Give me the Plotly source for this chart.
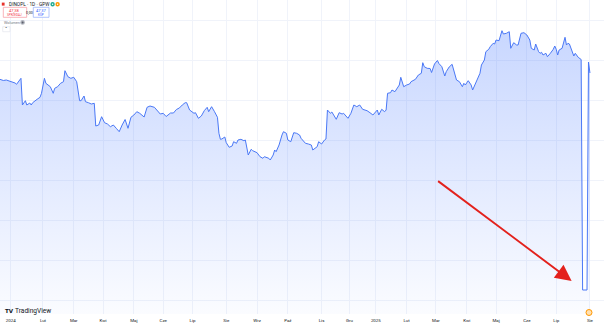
import plotly.graph_objects as go

# ---------------- data ----------------
dates = [
    "2023-12-18", "2023-12-19", "2023-12-21", "2023-12-27",
    "2024-01-03", "2024-01-05", "2024-01-08", "2024-01-10", "2024-01-11", "2024-01-12",
    "2024-01-15", "2024-01-16", "2024-01-17", "2024-01-19", "2024-01-22", "2024-01-23",
    "2024-01-26", "2024-01-30", "2024-01-31",
    "2024-02-02", "2024-02-05", "2024-02-08", "2024-02-12", "2024-02-13", "2024-02-15",
    "2024-02-19", "2024-02-21", "2024-02-22", "2024-02-26", "2024-02-28",
    "2024-03-01", "2024-03-05", "2024-03-07", "2024-03-08", "2024-03-12", "2024-03-13",
    "2024-03-15", "2024-03-19", "2024-03-21", "2024-03-22", "2024-03-26", "2024-03-28",
    "2024-04-03", "2024-04-05", "2024-04-09", "2024-04-11", "2024-04-15", "2024-04-17",
    "2024-04-19", "2024-04-23", "2024-04-25", "2024-04-29",
    "2024-05-02", "2024-05-07", "2024-05-09", "2024-05-14", "2024-05-16", "2024-05-20",
    "2024-05-23", "2024-05-27", "2024-05-29",
    "2024-06-03", "2024-06-05", "2024-06-10", "2024-06-12", "2024-06-14", "2024-06-18",
    "2024-06-20", "2024-06-24", "2024-06-25", "2024-06-27",
    "2024-07-02", "2024-07-03", "2024-07-05", "2024-07-09", "2024-07-11", "2024-07-15",
    "2024-07-16", "2024-07-18", "2024-07-22", "2024-07-24", "2024-07-25", "2024-07-26",
    "2024-07-29", "2024-07-31",
    "2024-08-01", "2024-08-05", "2024-08-07", "2024-08-08", "2024-08-12", "2024-08-13",
    "2024-08-16", "2024-08-20", "2024-08-21", "2024-08-22", "2024-08-23", "2024-08-27",
    "2024-08-28",
    "2024-09-02", "2024-09-04", "2024-09-06", "2024-09-09", "2024-09-12", "2024-09-13",
    "2024-09-17", "2024-09-18", "2024-09-19", "2024-09-23", "2024-09-25", "2024-09-26",
    "2024-09-30",
    "2024-10-01", "2024-10-03", "2024-10-07", "2024-10-09", "2024-10-11", "2024-10-14",
    "2024-10-17", "2024-10-21", "2024-10-23", "2024-10-24", "2024-10-29", "2024-10-30",
    "2024-10-31",
    "2024-11-04", "2024-11-06", "2024-11-07", "2024-11-08", "2024-11-13", "2024-11-14",
    "2024-11-18", "2024-11-19", "2024-11-21", "2024-11-25", "2024-11-26", "2024-11-29",
    "2024-12-03", "2024-12-05", "2024-12-09", "2024-12-11", "2024-12-13", "2024-12-18",
    "2024-12-20", "2024-12-27",
    "2025-01-03", "2025-01-07", "2025-01-09", "2025-01-13", "2025-01-14", "2025-01-15",
    "2025-01-17", "2025-01-20", "2025-01-22", "2025-01-24", "2025-01-27", "2025-01-28",
    "2025-01-29", "2025-01-30",
    "2025-02-03", "2025-02-05", "2025-02-06", "2025-02-11", "2025-02-13", "2025-02-17",
    "2025-02-18", "2025-02-19", "2025-02-21", "2025-02-25", "2025-02-26", "2025-02-28",
    "2025-03-04", "2025-03-05", "2025-03-07", "2025-03-11", "2025-03-12", "2025-03-14",
    "2025-03-18", "2025-03-20", "2025-03-21", "2025-03-25", "2025-03-27", "2025-03-28",
    "2025-03-31",
    "2025-04-02", "2025-04-04", "2025-04-07", "2025-04-09", "2025-04-10", "2025-04-14",
    "2025-04-15", "2025-04-17", "2025-04-22", "2025-04-24", "2025-04-25", "2025-04-29",
    "2025-04-30",
    "2025-05-02", "2025-05-06", "2025-05-08", "2025-05-09", "2025-05-13", "2025-05-15",
    "2025-05-16", "2025-05-20", "2025-05-22", "2025-05-23", "2025-05-27", "2025-05-29",
    "2025-06-02", "2025-06-04", "2025-06-05", "2025-06-09", "2025-06-10", "2025-06-12",
    "2025-06-13", "2025-06-16", "2025-06-17", "2025-06-20", "2025-06-23", "2025-06-25",
    "2025-06-27", "2025-06-30",
    "2025-07-01", "2025-07-02", "2025-07-03", "2025-07-07", "2025-07-08", "2025-07-09",
    "2025-07-10", "2025-07-11", "2025-07-14", "2025-07-15", "2025-07-17", "2025-07-18",
    "2025-07-21", "2025-07-22", "2025-07-24", "2025-07-25", "2025-07-28", "2025-07-29",
    "2025-07-30", "2025-07-31", "2025-08-01",
]

prices = [
    261.0, 260.7, 259.5, 260.0,
    258.3, 257.0, 255.7, 260.0, 261.7, 235.0,
    237.0, 239.3, 235.0, 237.0, 235.0, 237.3,
    240.7, 242.7, 246.7,
    261.7, 256.7, 253.3, 246.7, 251.7, 253.3,
    256.7, 258.3, 269.3, 263.3, 261.7,
    262.7, 258.3, 239.3, 239.3, 244.0, 238.3,
    237.3, 236.0, 236.7, 214.0, 215.0, 223.3,
    217.3, 216.0, 213.3, 215.0, 211.7, 208.3,
    215.0, 220.5, 211.7, 222.7,
    225.0, 228.3, 226.7, 223.0, 232.7, 234.0,
    232.7, 229.3, 226.0,
    226.7, 223.5, 227.0, 227.0, 230.5, 232.0,
    235.0, 237.3, 237.3, 230.0,
    226.7, 227.3, 221.7, 224.0, 229.3, 232.7,
    228.3, 233.3, 228.3, 222.7, 206.7, 200.7,
    201.0, 203.0,
    197.3, 192.7, 194.0, 198.3, 196.7, 200.0,
    200.7, 199.3, 200.0, 193.3, 185.0, 190.7,
    189.3,
    187.3, 183.3, 181.7, 183.3, 181.7, 180.0,
    185.0, 190.0, 188.3, 195.0, 205.0, 208.3,
    206.7,
    200.0, 198.3, 207.3, 206.7, 205.0, 201.7,
    196.7, 196.0, 195.0, 190.0, 193.3, 198.3,
    197.0,
    196.0, 200.0, 201.0, 230.0, 226.7, 228.0,
    223.3, 220.7, 227.3, 226.0, 226.7, 221.7,
    226.7, 235.0, 233.3, 235.0, 230.7, 229.3,
    227.3, 225.0,
    230.0, 225.0, 230.7, 228.3, 230.0, 246.7,
    247.3, 250.0, 248.3, 253.3, 255.0, 262.7,
    256.7, 253.3,
    255.0, 256.0, 258.3, 260.7, 265.0, 266.7,
    277.3, 273.3, 271.7, 271.5, 267.5, 276.0,
    279.5, 276.5, 273.3, 264.0, 268.3, 273.0,
    275.7, 266.7, 260.0, 258.3, 253.3, 256.7,
    255.0,
    259.3, 255.0, 250.0, 256.7, 260.0, 266.7,
    275.0, 280.0, 288.3, 290.7, 293.3, 296.7,
    296.0,
    300.0, 299.3, 309.3, 306.0, 306.7, 308.3,
    291.7, 297.3, 295.0, 295.0, 306.7, 307.3,
    305.0, 300.0, 291.7, 290.0, 296.0, 288.3,
    286.7, 287.7, 285.0, 286.7, 283.3, 286.7,
    290.7, 294.0,
    290.7, 285.0, 290.0, 291.7, 296.7, 302.7,
    295.0, 296.7, 296.0, 291.7, 284.0, 286.7,
    285.0, 282.7, 280.5, 50.0, 50.0, 50.0,
    50.0, 278.0, 267.0,
]

tick_dates = [
    "2024-01-02", "2024-02-01", "2024-03-01", "2024-04-02", "2024-05-02", "2024-06-03",
    "2024-07-01", "2024-08-01", "2024-09-02", "2024-10-01", "2024-11-04", "2024-12-02",
    "2025-01-02", "2025-02-03", "2025-03-03", "2025-04-01", "2025-05-02", "2025-06-02",
    "2025-07-01", "2025-08-01",
]
tick_labels = [
    "2024", "Lut", "Mar", "Kwi", "Maj", "Cze", "Lip", "Sie", "Wrz", "Paź", "Lis", "Gru",
    "2025", "Lut", "Mar", "Kwi", "Maj", "Cze", "Lip", "Sie",
]

# exchange holidays (GPW), removed from the time axis like TradingView does
holidays = [
    "2023-12-25", "2023-12-26", "2024-01-01", "2024-03-29", "2024-04-01", "2024-05-01",
    "2024-05-03", "2024-05-30", "2024-08-15", "2024-11-01", "2024-11-11", "2024-12-24",
    "2024-12-25", "2024-12-26", "2024-12-31", "2025-01-01", "2025-01-06", "2025-04-18",
    "2025-04-21", "2025-05-01", "2025-06-19", "2025-08-15",
]

# ---------------- layout helpers ----------------
W, H = 604, 325
MB = 11
PH = H - MB
FONT = "Roboto, Inter, sans-serif"


def pxx(x):
    return x / W


def pxy(y):
    return 1 - y / PH


fig = go.Figure()

fig.add_trace(go.Scatter(
    x=dates, y=prices, mode="lines",
    line=dict(color="#4a78f6", width=1.0),
    fill="tozeroy",
    fillgradient=dict(
        type="vertical",
        colorscale=[[0, "rgba(41,98,255,0.02)"], [1, "rgba(41,98,255,0.28)"]],
        start=26, stop=340,
    ),
    hoverinfo="skip", showlegend=False,
))

shapes = []
annotations = []

# ---- header ----
shapes.append(dict(type="rect", xref="paper", yref="paper",
                   x0=pxx(1.8), x1=pxx(4.6), y0=pxy(5.6), y1=pxy(2.6),
                   fillcolor="#e8322b", line=dict(width=0)))
annotations.append(dict(xref="paper", yref="paper", x=pxx(7), y=pxy(4.2),
                        xanchor="left", yanchor="middle", showarrow=False,
                        text="DINOPL · 1D · GPW",
                        font=dict(family=FONT, size=4.8, color="#131722")))
for cx, col in [(52.6, "#22ab94"), (57.6, "#ff9800")]:
    shapes.append(dict(type="circle", xref="paper", yref="paper",
                       x0=pxx(cx - 2.2), x1=pxx(cx + 2.2), y0=pxy(6.4), y1=pxy(2.0),
                       fillcolor=col, line=dict(width=0)))
    shapes.append(dict(type="circle", xref="paper", yref="paper",
                       x0=pxx(cx - 0.7), x1=pxx(cx + 0.7), y0=pxy(4.9), y1=pxy(3.5),
                       fillcolor="white", line=dict(width=0)))

# sell / buy boxes
shapes.append(dict(type="rect", xref="paper", yref="paper",
                   x0=pxx(3.3), x1=pxx(26.7), y0=pxy(17.3), y1=pxy(7.3),
                   fillcolor="white", line=dict(color="#f7a1a8", width=0.8)))
shapes.append(dict(type="rect", xref="paper", yref="paper",
                   x0=pxx(33.3), x1=pxx(49.0), y0=pxy(17.3), y1=pxy(7.3),
                   fillcolor="white", line=dict(color="#9fb8fb", width=0.8)))
for cx, top, bot, col in [(15.0, "47,38", "SPRZEDAJ", "#f23645"),
                          (41.2, "47,37", "KUP", "#2962ff")]:
    annotations.append(dict(xref="paper", yref="paper", x=pxx(cx), y=pxy(10.6),
                            xanchor="center", yanchor="middle", showarrow=False,
                            text=top, font=dict(family=FONT, size=4.0, color=col)))
    annotations.append(dict(xref="paper", yref="paper", x=pxx(cx), y=pxy(14.6),
                            xanchor="center", yanchor="middle", showarrow=False,
                            text=bot, font=dict(family=FONT, size=3.0, color=col)))
annotations.append(dict(xref="paper", yref="paper", x=pxx(30.0), y=pxy(12.6),
                        xanchor="center", yanchor="middle", showarrow=False,
                        text="0,00", font=dict(family=FONT, size=3.6, color="#131722")))

annotations.append(dict(xref="paper", yref="paper", x=pxx(2.0), y=pxy(22.4),
                        xanchor="left", yanchor="middle", showarrow=False,
                        text="Wolumen", font=dict(family=FONT, size=3.8, color="#787b86")))
shapes.append(dict(type="circle", xref="paper", yref="paper",
                   x0=pxx(20.3), x1=pxx(24.9), y0=pxy(24.7), y1=pxy(20.1),
                   fillcolor="#b2b5be", line=dict(width=0)))
shapes.append(dict(type="circle", xref="paper", yref="paper",
                   x0=pxx(21.6), x1=pxx(23.6), y0=pxy(23.4), y1=pxy(21.4),
                   fillcolor="#5d606b", line=dict(width=0)))

shapes.append(dict(type="rect", xref="paper", yref="paper",
                   x0=pxx(2.7), x1=pxx(10.0), y0=pxy(31.7), y1=pxy(26.7),
                   fillcolor="white", line=dict(color="#e0e3eb", width=0.6)))
annotations.append(dict(xref="paper", yref="paper", x=pxx(6.35), y=pxy(29.2),
                        xanchor="center", yanchor="middle", showarrow=False,
                        text="ˇ", font=dict(family=FONT, size=5, color="#131722")))

# ---- TradingView logo ----
annotations.append(dict(xref="paper", yref="paper", x=pxx(2.6), y=pxy(311.0),
                        xanchor="left", yanchor="middle", showarrow=False,
                        text="<b>TV</b>", font=dict(family="DejaVu Sans", size=5.6, color="#131722")))
annotations.append(dict(xref="paper", yref="paper", x=pxx(13.0), y=pxy(311.0),
                        xanchor="left", yanchor="middle", showarrow=False,
                        text="TradingView", font=dict(family=FONT, size=6.6, color="#131722")))

# ---- event marker on time axis (just above the 'Sie' label) ----
shapes.append(dict(type="circle", xref="paper", yref="paper",
                   x0=pxx(586.0), x1=pxx(592.0), y0=pxy(315.5), y1=pxy(309.5),
                   fillcolor="#ffe0b2", line=dict(color="#ff9800", width=1.0),
                   layer="above"))

# ---- red arrow ----
annotations.append(dict(x="2025-07-15 12:00", y=59, xref="x", yref="y",
                        ax=-135, ay=-101, showarrow=True, text="",
                        arrowcolor="#e3211c", arrowwidth=1.9, arrowhead=2,
                        arrowsize=1.7, standoff=0))

fig.update_layout(
    width=W, height=H,
    margin=dict(l=0, r=0, t=0, b=MB, autoexpand=False),
    paper_bgcolor="white", plot_bgcolor="white",
    shapes=shapes, annotations=annotations,
    showlegend=False,
    xaxis=dict(
        type="date",
        range=["2023-12-18 17:00", "2025-08-14 14:00"],
        rangebreaks=[dict(bounds=["sat", "mon"]), dict(values=holidays)],
        tickmode="array", tickvals=tick_dates, ticktext=tick_labels,
        tickfont=dict(family=FONT, size=4.4, color="#131722"),
        ticklabelstandoff=3,
        showgrid=True, gridcolor="#f0f3fa", gridwidth=0.7,
        zeroline=False, showline=False, ticks="",
        automargin=False,
        fixedrange=True,
    ),
    yaxis=dict(
        range=[26, 340],
        showticklabels=False, ticks="",
        showgrid=True, gridcolor="#f0f3fa", gridwidth=0.7, dtick=40,
        zeroline=False, showline=False,
        fixedrange=True,
    ),
)

fig.write_html("out.html", config={"displayModeBar": False})
